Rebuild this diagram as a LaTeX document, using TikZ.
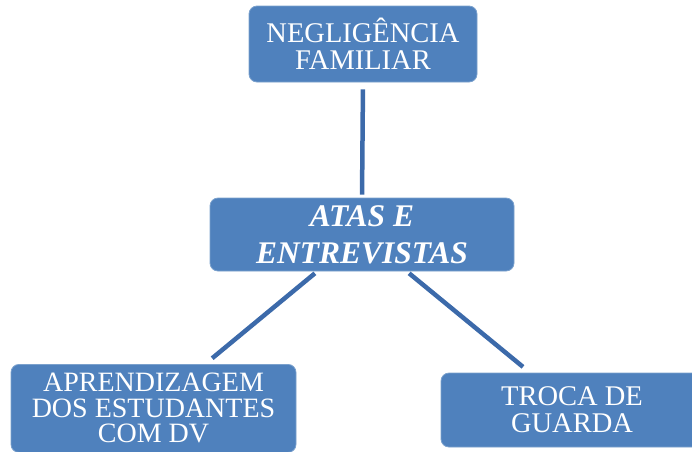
\documentclass[tikz,border=0pt]{standalone}
\usepackage{fontspec}
\setmainfont{Liberation Serif}
\usetikzlibrary{calc}

\begin{document}
\begin{tikzpicture}[x=1pt,y=-1pt,
  box/.style={rectangle, rounded corners=8pt, fill=c1, draw=c1!75!white, line width=0.8pt,
    inner sep=0pt, align=center, text=white},
  link/.style={draw=c2, line width=4.5pt}]

\definecolor{c1}{rgb}{0.31, 0.506, 0.741}
\definecolor{c2}{rgb}{0.235, 0.416, 0.667}

\useasboundingbox (0,0) rectangle (692,451);

\node[box, minimum width=228pt, minimum height=76pt,
  font=\fontsize{28.5}{27}\selectfont] (negl) at (363,44) {NEGLIGÊNCIA\\FAMILIAR};
\node[box, minimum width=304pt, minimum height=73pt,
  font=\fontsize{31.5}{37}\selectfont\bfseries\itshape] (atas) at (362,234.5) {ATAS E\\ENTREVISTAS};
\node[box, minimum width=285pt, minimum height=88pt, anchor=north,
  font=\fontsize{28}{25.5}\selectfont] (aprend) at (153.5,364) {APRENDIZAGEM\\DOS ESTUDANTES\\COM DV};
\node[box, minimum width=262pt, minimum height=74pt,
  font=\fontsize{28.5}{27}\selectfont] (troca) at (572,410) {TROCA DE\\GUARDA};

\draw[link, shorten <=7pt, shorten >=3pt] (negl.south) -- (atas.north);
\draw[link, shorten <=3pt, shorten >=9pt]
  ($(atas.south west)!0.353!(atas.south east)$) -- ($(aprend.north west)!0.681!(aprend.north east)$);
\draw[link, shorten <=3pt, shorten >=9pt]
  ($(atas.south west)!0.647!(atas.south east)$) -- ($(troca.north west)!0.34!(troca.north east)$);

\end{tikzpicture}
\end{document}
